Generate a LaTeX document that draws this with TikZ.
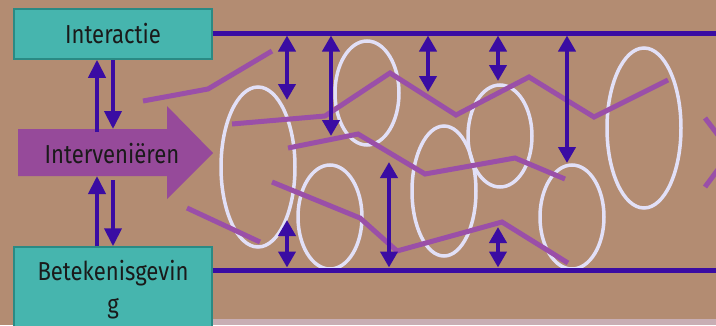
\documentclass[tikz,border=0pt]{standalone}
\usepackage{fontspec}
\setmainfont{Fira Sans}[FakeStretch=0.85]
\usetikzlibrary{arrows.meta}
\definecolor{bg}{HTML}{B38C72}
\definecolor{tealfill}{HTML}{46B5AE}
\definecolor{tealedge}{HTML}{2A8A84}
\definecolor{bigpurple}{HTML}{964A9A}
\definecolor{linepurple}{HTML}{9A4FA8}
\definecolor{violet}{HTML}{3A0CA3}
\definecolor{ellcol}{HTML}{E2E0F7}
\definecolor{txt}{HTML}{1A1A1A}
\definecolor{strip}{HTML}{C8AEB4}
\tikzset{
  tbox/.style={draw=tealedge, line width=1.5pt, fill=tealfill, minimum width=198pt,
    inner sep=0pt, align=center, text=txt, font=\fontsize{26}{33}\selectfont},
  hline/.style={violet, line width=5pt},
  upar/.style={violet, line width=4pt, -{Triangle[width=17pt,length=18pt]}},
  dblar/.style={violet, line width=4pt, {Triangle[width=17pt,length=16pt]}-{Triangle[width=17pt,length=16pt]}},
  ell/.style={ellcol, line width=3.5pt},
  pline/.style={linepurple, line width=5pt, line join=miter},
}
\begin{document}
\begin{tikzpicture}[x=1pt,y=-1pt]
\useasboundingbox (0,0) rectangle (716,325);
\clip (0,0) rectangle (716,325);
\fill[bg] (0,0) rectangle (716,325);
\fill[strip] (160,319) rectangle (716,325);

% boxes
\node[tbox, minimum height=50pt] (int) at (113,34) {Interactie};
\node[tbox, minimum height=86pt] (bet) at (113,290) {Betekenisgevin\\g};

% big arrow
\fill[bigpurple] (18,129) -- (167,129) -- (167,106) -- (213,153) -- (167,199) -- (167,176) -- (18,176) -- cycle;
\node[text=txt, font=\fontsize{26}{33}\selectfont, inner sep=0pt] (iv) at (112,154) {Interveniëren};

% coordinates for left arrows
\coordinate (ivtopL) at (97,132);
\coordinate (ivtopR) at (113,129);
\coordinate (ivbotL) at (97,176);
\coordinate (ivbotR) at (113,180);

\draw[upar] (ivtopL) -- (ivtopL |- int.south);
\draw[upar] (ivtopR |- int.south) -- (ivtopR);
\draw[upar] (ivbotL |- bet.north) -- (ivbotL);
\draw[upar] (ivbotR) -- (ivbotR |- bet.north);

% ellipses
\draw[ell] (258,167) ellipse [x radius=37, y radius=80];
\draw[ell] (330,217) ellipse [x radius=32, y radius=52];
\draw[ell] (367,93) ellipse [x radius=32, y radius=52];
\draw[ell] (444,191) ellipse [x radius=32, y radius=65];
\draw[ell] (500,136) ellipse [x radius=32, y radius=51];
\draw[ell] (572,217) ellipse [x radius=32, y radius=52];
\draw[ell] (644,128) ellipse [x radius=37, y radius=80];

% purple lines
\draw[pline] (143,101) -- (208,89) -- (272,51);
\draw[pline] (232,124) -- (325,116) -- (390,73) -- (456,115) -- (529,77) -- (594,117) -- (668,80);
\draw[pline] (288,148) -- (358,134) -- (425,174) -- (515,158) -- (565,179);
\draw[pline] (272,182) -- (360,218) -- (397,251) -- (502,222) -- (568,263);
\draw[pline] (187,208) -- (260,242);
\draw[pline] (705,118) -- (731,152) -- (705,187);

% horizontal lines
\coordinate (topend) at (716,33);
\coordinate (botend) at (716,270);
\draw[hline] (int.east |- topend) -- (topend);
\draw[hline] (bet.east |- botend) -- (botend);

% double arrows
\foreach \xx/\ya/\yb in {287/35.5/100, 331/35.5/136, 428/35.5/92, 498/35.5/81, 567/35.5/163,
                         287/220/267.5, 389/162/267.5, 498/227/267.5}{
  \coordinate (da1) at (\xx,\ya);
  \coordinate (da2) at (\xx,\yb);
  \draw[dblar] (da1) -- (da2);
}
\end{tikzpicture}
\end{document}
